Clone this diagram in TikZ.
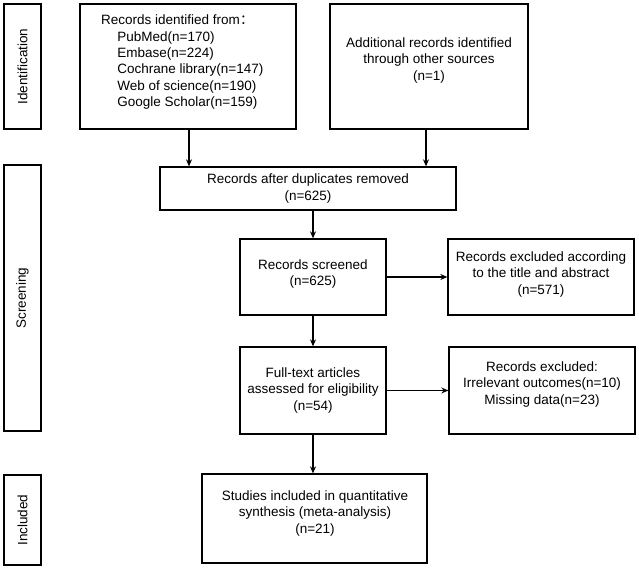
\documentclass[tikz,border=0pt]{standalone}
\usepackage{fontspec}
\setmainfont{Liberation Sans}
\newfontfamily\cjk{Noto Sans CJK SC}
\usetikzlibrary{arrows.meta}
\begin{document}
\begin{tikzpicture}[x=1pt,y=-1pt,
  box/.style={draw,line width=1.3pt,inner sep=0pt,align=center,font=\fontsize{13.5}{16.5}\selectfont},
  stage/.style={draw,line width=1.3pt,inner sep=0pt,font=\fontsize{13.5}{15}\selectfont},
  arr/.style={-{Stealth[length=7pt,width=6pt]},line width=1.3pt}]
\useasboundingbox (0,0) rectangle (639,567);
\newcommand{\bx}[6]{\node[#6,minimum width={#4-#2},minimum height={#5-#3}] (#1) at ({(#2+#4)/2},{(#3+#5)/2}) {};}
\bx{ident}{4}{4}{41}{129}{stage}
\bx{screen}{4}{165}{41}{431}{stage}
\bx{incl}{4}{475}{41}{565}{stage}
\node[rotate=90,font=\fontsize{13.5}{15}\selectfont] (identt) at (ident) {Identification};
\node[rotate=90,font=\fontsize{13.5}{15}\selectfont] (screent) at (screen) {Screening};
\node[rotate=90,font=\fontsize{13.5}{15}\selectfont] (inclt) at (incl) {Included};
\bx{b1}{80}{4}{296}{129}{box}
\node[align=left,anchor=north west,inner sep=0pt,font=\fontsize{13.5}{16.3}\selectfont] (b1t) at (101,15) {Records identified from{\cjk ：}\\
\hspace{1.2em}PubMed(n=170)\\
\hspace{1.2em}Embase(n=224)\\
\hspace{1.2em}Cochrane library(n=147)\\
\hspace{1.2em}Web of science(n=190)\\
\hspace{1.2em}Google Scholar(n=159)};
\bx{b2}{330}{4}{528}{129}{box}
\node[box,draw=none,anchor=north] (b2t) at (429,37) {Additional records identified\\through other sources\\(n=1)};
\bx{b3}{160}{167}{456}{210}{box}
\node[box,draw=none] (b3t) at (b3) {Records after duplicates removed\\(n=625)};
\bx{b4}{240}{239}{386}{315}{box}
\node[box,draw=none,anchor=north] (b4t) at (313,259) {Records screened\\(n=625)};
\bx{b5}{448}{239}{634}{315}{box}
\node[box,draw=none,anchor=north] (b5t) at (541,251) {Records excluded according\\to the title and abstract\\(n=571)};
\bx{b6}{240}{347}{386}{434}{box}
\node[box,draw=none] (b6t) at (b6) {Full-text articles\\assessed for eligibility\\(n=54)};
\bx{b7}{449}{347}{635}{434}{box}
\node[box,draw=none,anchor=north] (b7t) at (542,361) {Records excluded:\\Irrelevant outcomes(n=10)\\Missing data(n=23)};
\bx{b8}{202}{474}{427}{563}{box}
\node[box,draw=none,anchor=north] (b8t) at (315,490) {Studies included in quantitative\\synthesis (meta-analysis)\\(n=21)};
\draw[arr] (b1.south -| 189,0) -- (b3.north -| 189,0);
\draw[arr] (b2.south -| 426,0) -- (b3.north -| 426,0);
\draw[arr] (b3.south -| b4) -- (b4.north);
\draw[arr] (b4.east) -- (b4.east -| b5.west);
\draw[arr] (b4.south) -- (b6.north);
\draw[arr] (b6.east) -- (b6.east -| b7.west);
\draw[arr] (b6.south) -- (b6.south |- b8.north);
\end{tikzpicture}
\end{document}
